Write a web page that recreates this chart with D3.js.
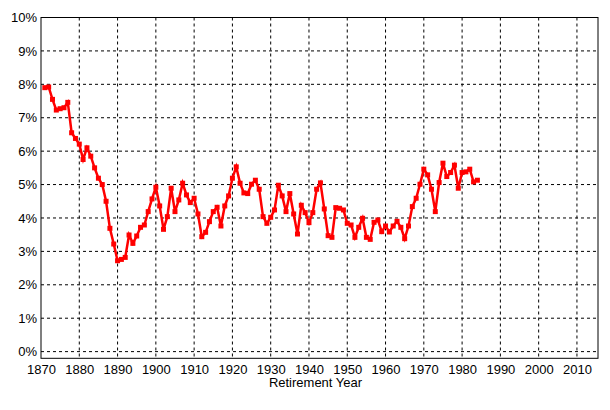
<!DOCTYPE html>
<html><head><meta charset="utf-8">
<script src="https://cdn.jsdelivr.net/npm/d3@7"></script>
<style>body{margin:0;background:#fff}text{font-family:"Liberation Sans",Arial,sans-serif;font-size:13px;fill:#000}</style>
</head><body>
<svg id="c" width="610" height="410"></svg>
<script>
const startYear = 1871;
const rates = [7.9,7.92,7.55,7.23,7.27,7.3,7.46,6.55,6.38,6.21,5.75,6.1,5.85,5.5,5.19,5.0,4.5,3.69,3.22,2.72,2.76,2.82,3.49,3.24,3.46,3.72,3.79,4.19,4.57,4.92,4.36,3.66,4.04,4.89,4.19,4.54,5.04,4.69,4.46,4.59,4.12,3.44,3.57,3.89,4.19,4.32,3.76,4.36,4.66,5.19,5.53,5.04,
4.75,4.73,5.01,5.13,4.86,4.04,3.84,4.02,4.24,4.98,4.66,4.19,4.73,4.12,3.52,4.38,4.16,3.86,4.16,4.86,5.05,4.27,3.47,3.42,4.31,4.29,4.24,3.84,3.79,3.42,3.72,3.99,3.42,3.36,3.87,3.94,3.59,3.76,3.58,3.76,3.9,3.72,3.38,3.76,4.34,4.59,5.01,5.46,5.29,4.86,4.19,5.06,5.64,5.24,5.36,5.58,4.89,5.36,5.38,5.46,5.08,5.13];
const xTicks = [1870,1880,1890,1900,1910,1920,1930,1940,1950,1960,1970,1980,1990,2000,2010];
const yTicks = [0,1,2,3,4,5,6,7,8,9,10];
const data = rates.map((v,i)=>({year:startYear+i, v}));

const L=41,R=598,T=17.5,B=358.3;
const x=d3.scaleLinear().domain([1870,2015.5]).range([L,R]);
const y=d3.scaleLinear().domain([-0.2,10]).range([B,T]);
const svg=d3.select("#c");
svg.append("g").selectAll("line").data(xTicks.slice(1)).join("line")
 .attr("x1",d=>x(d)).attr("x2",d=>x(d)).attr("y1",T).attr("y2",B)
 .attr("stroke","#000").attr("stroke-dasharray","3,3");
svg.append("g").selectAll("line").data(yTicks).join("line")
 .attr("x1",L).attr("x2",R).attr("y1",d=>y(d)).attr("y2",d=>y(d))
 .attr("stroke","#000").attr("stroke-dasharray","3,3");
svg.append("rect").attr("x",L).attr("y",T).attr("width",R-L).attr("height",B-T)
 .attr("fill","none").attr("stroke","#000");
const xa=svg.append("g").attr("transform",`translate(0,${B})`)
 .call(d3.axisBottom(x).tickValues(xTicks).tickFormat(d3.format("d")).tickSize(0).tickPadding(6));
xa.select(".domain").remove();
xa.selectAll("text").style("font-size","13px");
const ya=svg.append("g").attr("transform",`translate(${L},0)`)
 .call(d3.axisLeft(y).tickValues(yTicks).tickFormat(d=>d+"%").tickSize(0).tickPadding(4));
ya.select(".domain").remove();
ya.selectAll("text").style("font-size","13px");
svg.append("text").attr("x",(L+R)/2-4).attr("y",387).attr("text-anchor","middle").text("Retirement Year");
svg.append("path").datum(data)
 .attr("d",d3.line().x(d=>x(d.year)).y(d=>y(d.v)))
 .attr("fill","none").attr("stroke","#ff0000").attr("stroke-width",2.5);
svg.append("g").selectAll("rect").data(data).join("rect")
 .attr("x",d=>x(d.year)-2.5).attr("y",d=>y(d.v)-2.5).attr("width",5).attr("height",5).attr("fill","#ff0000");
</script>
</body></html>
